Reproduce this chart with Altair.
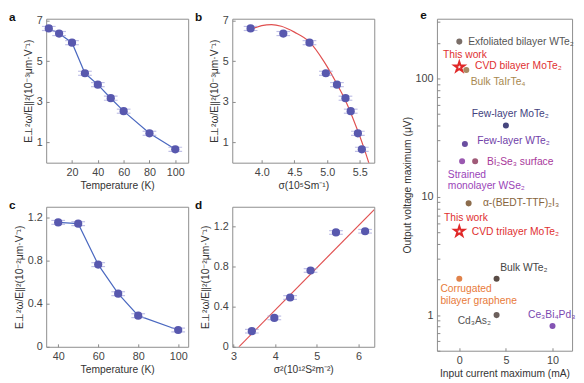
import altair as alt
import pandas as pd

FONT = "Liberation Sans"

# ---------------- panel a / b (bilayer) ----------------
temp_a = [2, 10, 20, 30, 40, 50, 60, 80, 100]
ratio_a = [6.62, 6.37, 5.92, 4.41, 3.85, 3.18, 2.54, 1.45, 0.66]
err_a = [0.10, 0.10, 0.10, 0.10, 0.10, 0.10, 0.10, 0.10, 0.10]
sigma_b = [3.83, 4.33, 4.73, 4.98, 5.15, 5.28, 5.36, 5.47, 5.53]
fit_sigma_b = [3.85, 4.0, 4.15, 4.3, 4.5, 4.73, 4.95, 5.15, 5.3, 5.45, 5.55, 5.64]
fit_ratio_b = [6.60, 6.76, 6.81, 6.73, 6.44, 5.96, 5.00, 3.88, 2.92, 1.72, 0.84, -0.04]

# ---------------- panel c / d (trilayer) ----------------
temp_c = [40, 50, 60, 70, 80, 100]
ratio_c = [1.155, 1.143, 0.763, 0.493, 0.289, 0.156]
err_c = [0.018, 0.018, 0.018, 0.018, 0.018, 0.018]
sigma2_d = [6.16, 5.46, 4.85, 4.36, 3.98, 3.44]
fit_sigma2_d = [3.13, 6.38]
fit_ratio_d = [0.0, 1.372]

# ---------------- panel e ----------------
pt_names = ["Exfoliated bilayer WTe2", "Bulk TaIrTe4", "Few-layer MoTe2", "Few-layer WTe2",
            "Strained monolayer WSe2", "Bi2Se3 surface", "a-(BEDT-TTF)2I3", "Bulk WTe2",
            "Corrugated bilayer graphene", "Cd3As2", "Ce3Bi4Pd3"]
pt_current = [0, 0.75, 5.0, 0.6, 0.3, 1.7, 1.0, 4.0, 0, 4.0, 10]
pt_voltage = [205, 118, 40, 28, 20, 20, 8.8, 2.03, 2.03, 1.0, 0.81]
pt_colors = ["#7a6e68", "#a88a62", "#46467e", "#6a4ea0", "#9a58b0", "#a05a78",
             "#8c6c4c", "#5a4c46", "#e0824a", "#6c605c", "#8454b4"]

star_names = ["CVD bilayer MoTe2", "CVD trilayer MoTe2"]
star_current = [0, 0]
star_voltage = [125, 5.1]

lab_text = ["Exfoliated bilayer WTe₂", "This work", "CVD bilayer MoTe₂", "Bulk TaIrTe₄",
            "Few-layer MoTe₂", "Few-layer WTe₂", "Bi₂Se₃ surface", "Strained",
            "monolayer WSe₂", "α-(BEDT-TTF)₂I₃", "This work", "CVD trilayer MoTe₂",
            "Bulk WTe₂", "Corrugated", "bilayer graphene", "Cd₃As₂", "Ce₃Bi₄Pd₃"]
lab_x = [0.95, -1.75, 1.68, 1.23, 1.34, 1.93, 2.98, -1.23, -1.23, 2.53, -1.65, 1.34,
         4.39, -2.03, -2.03, -0.18, 7.37]
lab_y = [203, 159, 127, 94, 50, 29.8, 19.8, 15.4, 12.4, 8.8, 6.59, 5.05,
         2.49, 1.65, 1.31, 0.897, 1.006]
lab_color = ["#555555", "#e03030", "#e03030", "#a8884f", "#424280", "#7040a8", "#a8389a",
             "#9a44b8", "#9a44b8", "#86643c", "#e03030", "#e03030", "#444444",
             "#e87a3a", "#e87a3a", "#555555", "#7a48b0"]

DOT = "#5858ae"
ERR = "#a4a4dc"
LINE = "#4a68c0"
FIT = "#e05050"
STAR_PATH = ("M0,-1L0.2245,-0.309L0.9511,-0.309L0.3633,0.118L0.5878,0.809L0,0.382"
             "L-0.5878,0.809L-0.3633,0.118L-0.9511,-0.309L-0.2245,-0.309Z")


def axis(title, values, fmt, label_expr=None):
    kw = dict(title=title, values=values, format=fmt, tickSize=3, offset=-3,
              labelPadding=4, titlePadding=3)
    if label_expr is not None:
        kw["labelExpr"] = label_expr
    return alt.Axis(**kw)


def letter(ch, dx, dy):
    return alt.Chart(pd.DataFrame({"t": [ch]})).mark_text(
        font=FONT, fontSize=12, fontWeight="bold", color="#111", align="left", baseline="middle"
    ).encode(x=alt.value(dx), y=alt.value(dy), text="t:N")


def scatter_panel(xs, ys, errs, xtitle, ytitle, xdom, ydom, xvals, yvals,
                  xfmt, yfmt, yexpr, w, h, ch, connect=False, fit=None):
    df = pd.DataFrame({"x": xs, "y": ys, "lo": [a - b for a, b in zip(ys, errs)],
                       "hi": [a + b for a, b in zip(ys, errs)]})
    X = alt.X("x:Q", scale=alt.Scale(domain=xdom, nice=False, zero=False),
              axis=axis(xtitle, xvals, xfmt))
    Y = alt.Y("y:Q", scale=alt.Scale(domain=ydom, nice=False, zero=False),
              axis=axis(ytitle, yvals, yfmt, yexpr))
    base = alt.Chart(df)
    layers = []
    if connect:
        layers.append(base.mark_line(color=LINE, strokeWidth=1.2).encode(x=X, y=Y))
    if fit is not None:
        fdf = pd.DataFrame({"x": fit[0], "y": fit[1]})
        layers.append(alt.Chart(fdf).mark_line(color=FIT, strokeWidth=1.2, clip=True,
                                               interpolate="monotone").encode(x=X, y=Y))
    layers.append(base.mark_rule(color=ERR, strokeWidth=1).encode(
        x=X, y=alt.Y("lo:Q"), y2="hi:Q"))
    layers.append(base.mark_tick(color=ERR, orient="horizontal", size=14, thickness=1.2).encode(
        x=X, y=alt.Y("lo:Q")))
    layers.append(base.mark_tick(color=ERR, orient="horizontal", size=14, thickness=1.2).encode(
        x=X, y=alt.Y("hi:Q")))
    layers.append(base.mark_circle(size=70, color=DOT, opacity=1).encode(x=X, y=Y))
    layers.append(letter(ch, -38, -2))
    return alt.layer(*layers).properties(width=w, height=h)


ytitle3 = "E⊥²ω/E∥²(10⁻³μm·V⁻¹)"
ytitle2 = "E⊥²ω/E∥²(10⁻²μm·V⁻¹)"
odd_expr = "datum.value % 2 == 1 ? datum.label : ''"
c_expr = ("round(datum.value * 10) % 4 == 0 ? "
          "(datum.value == 0 ? '0' : format(datum.value, '.1f')) : ''")

pa = scatter_panel(temp_a, ratio_a, err_a, "Temperature (K)", ytitle3, [0, 110], [0, 7.1],
                   [20, 40, 60, 80, 100], [1, 2, 3, 4, 5, 6, 7], "d", "d", odd_expr,
                   145, 147, "a", connect=True)
pb = scatter_panel(sigma_b, ratio_a, err_a, "σ(10⁵Sm⁻¹)", ytitle3, [3.55, 5.72], [0, 7.1],
                   [4.0, 4.5, 5.0, 5.5], [1, 2, 3, 4, 5, 6, 7], ".1f", "d", odd_expr,
                   145, 147, "b", fit=(fit_sigma_b, fit_ratio_b))
pc = scatter_panel(temp_c, ratio_c, err_c, "Temperature (K)", ytitle2, [34, 105], [0, 1.3],
                   [40, 60, 80, 100], [0, 0.2, 0.4, 0.6, 0.8, 1.0, 1.2], "d", ".1f", c_expr,
                   145, 143, "c", connect=True)
pdd = scatter_panel(sigma2_d, ratio_c, err_c, "σ²(10¹²S²m⁻²)", ytitle2, [2.97, 6.38], [0, 1.4],
                    [3, 4, 5, 6], [0, 0.2, 0.4, 0.6, 0.8, 1.0, 1.2], "d", ".1f", c_expr,
                    145, 143, "d", fit=(fit_sigma2_d, fit_ratio_d))

# ---- panel e ----
edf = pd.DataFrame({"name": pt_names, "x": pt_current, "y": pt_voltage, "c": pt_colors})
sdf = pd.DataFrame({"name": star_names, "x": star_current, "y": star_voltage})
ldf = pd.DataFrame({"t": lab_text, "x": lab_x, "y": lab_y, "c": lab_color})

log_ticks = [0.5, 0.6, 0.7, 0.8, 0.9, 1, 2, 3, 4, 5, 6, 7, 8, 9, 10, 20, 30, 40, 50, 60, 70, 80,
             90, 100, 200, 300]
EX = alt.X("x:Q", scale=alt.Scale(domain=[-2.4, 12.1], nice=False, zero=False),
           axis=axis("Input current maximum (mA)", [0, 5, 10], "d"))
EY = alt.Y("y:Q", scale=alt.Scale(type="log", domain=[0.5, 320], nice=False),
           axis=axis("Output voltage maximum (μV)", log_ticks, "d",
                     "datum.value == 1 || datum.value == 10 || datum.value == 100 ? datum.label : ''"))

e_stars = alt.Chart(sdf).mark_point(shape=STAR_PATH, size=115, color="#e02828", filled=False,
                                    strokeWidth=2, opacity=1).encode(x=EX, y=EY)
e_pts = alt.Chart(edf).mark_circle(size=38, opacity=1).encode(
    x=EX, y=EY, color=alt.Color("c:N", scale=None))
e_lab = alt.Chart(ldf).mark_text(font=FONT, fontSize=10.5, align="left", baseline="middle").encode(
    x=EX, y=EY, text="t:N", color=alt.Color("c:N", scale=None))
pe = alt.layer(e_stars, e_pts, e_lab, letter("e", -17, -4)).properties(width=138, height=339)

col1 = alt.vconcat(pa, pc, spacing=7)
col2 = alt.vconcat(pb, pdd, spacing=7)
left = alt.hconcat(col1, col2, spacing=5)
chart = alt.hconcat(left, pe, spacing=27).properties(
    padding={"left": 0, "top": -4, "right": 0, "bottom": 0}
).configure_view(
    stroke="#8c8c8c", strokeWidth=1
).configure_axis(
    domain=False, grid=False, tickColor="#888", labelFont=FONT, labelFontSize=11,
    labelColor="#444", titleFont=FONT, titleFontSize=10.5, titleFontWeight="normal",
    titleColor="#333"
)

chart.save("out.html", embed_options={"renderer": "svg", "actions": False})
